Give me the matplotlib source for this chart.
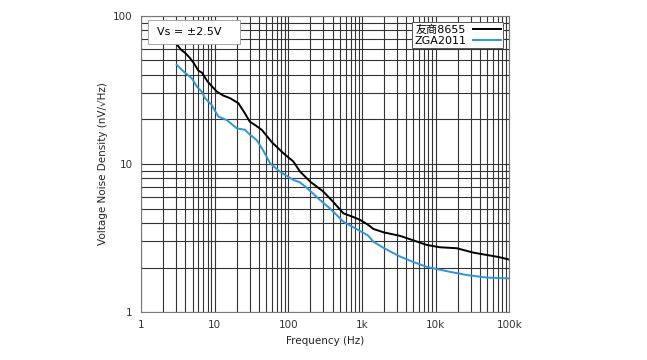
import matplotlib.pyplot as plt
import matplotlib.patches as patches
import numpy as np

plt.rcParams['font.family'] = ['DejaVu Sans', 'Noto Sans CJK SC']

# 友商8655 (black)
freq_a = [3, 3.5, 4.0, 4.6, 5.2, 6.0, 6.7, 8.0, 10.7, 13, 16.2, 21, 25, 30, 36, 43.6,
          60, 86, 117, 144, 198, 300, 400, 561, 750, 946, 1200, 1433, 2000, 3300, 5000,
          7620, 11500, 19400, 32700, 49800, 70000, 98000]
noise_a = [65, 59, 56, 52, 48, 42.7, 41.4, 36, 30.8, 29, 27.8, 25.7, 22.5, 19.3, 18.2, 17.0,
           14.0, 11.8, 10.4, 8.9, 7.6, 6.5, 5.6, 4.64, 4.4, 4.19, 3.9, 3.64, 3.45, 3.27, 3.05,
           2.84, 2.74, 2.70, 2.52, 2.43, 2.36, 2.27]

# ZGA2011 (blue)
freq_b = [3.05, 3.8, 4.88, 5.8, 6.67, 7.4, 9.1, 11.2, 14.6, 20, 25.8, 30, 37.2, 45,
          56.6, 77, 117, 144, 178, 270, 370, 561, 896, 1200, 1433, 2000, 3300, 5000,
          7620, 15700, 26600, 49800, 98000]
noise_b = [46.7, 42, 37.9, 33, 30.8, 27.8, 25.0, 20.9, 19.8, 17.4, 17.0, 15.8, 14.5, 12.5,
           10.1, 8.87, 7.8, 7.52, 6.9, 5.71, 5.0, 4.07, 3.58, 3.3, 2.99, 2.7, 2.37, 2.18,
           2.02, 1.87, 1.78, 1.71, 1.69]

x_ticks = [1, 10, 100, 1000, 10000, 100000]
x_labels = ['1', '10', '100', '1k', '10k', '100k']
y_ticks = [1, 10, 100]
y_labels = ['1', '10', '100']

fig = plt.figure(figsize=(6.47, 3.60), dpi=100)
ax = fig.add_axes([0.218, 0.133, 0.569, 0.823])

ax.set_xscale('log')
ax.set_yscale('log')
ax.set_xlim(1, 100000)
ax.set_ylim(1, 100)

ax.grid(True, which='both', color='#333333', linewidth=0.8)
ax.set_axisbelow(True)

ax.plot(freq_a, noise_a, color='black', linewidth=1.4, label='友商8655')
ax.plot(freq_b, noise_b, color='#2f95dc', linewidth=1.4, label='ZGA2011')

ax.set_xticks(x_ticks)
ax.set_xticklabels(x_labels)
ax.set_yticks(y_ticks)
ax.set_yticklabels(y_labels)
ax.tick_params(which='both', length=0, labelsize=7.5, colors='#333333', pad=6)

for s in ax.spines.values():
    s.set_color('#777777')
    s.set_linewidth(0.8)

ax.set_xlabel('Frequency (Hz)', fontsize=7.5, color='#222222')
ax.set_ylabel('Voltage Noise Density (nV/√Hz)', fontsize=7.5, color='#222222')

# condition box (white, covers the grid)
box = patches.Rectangle((0.019, 0.905), 0.25, 0.081, transform=ax.transAxes,
                        facecolor='white', edgecolor='#999999', linewidth=0.6, zorder=3)
ax.add_patch(box)
ax.text(0.043, 0.945, 'Vs = ±2.5V', transform=ax.transAxes, fontsize=8,
        va='center', ha='left', zorder=4)

leg = ax.legend(loc='upper right', fontsize=8, frameon=True, fancybox=False,
                edgecolor='#555555', framealpha=1, borderpad=0.2, labelspacing=0.1,
                handlelength=2.5, handletextpad=0.6, markerfirst=False,
                bbox_to_anchor=(0.998, 0.997))
leg.get_frame().set_linewidth(0.7)

fig.savefig('out.png', dpi=100)
